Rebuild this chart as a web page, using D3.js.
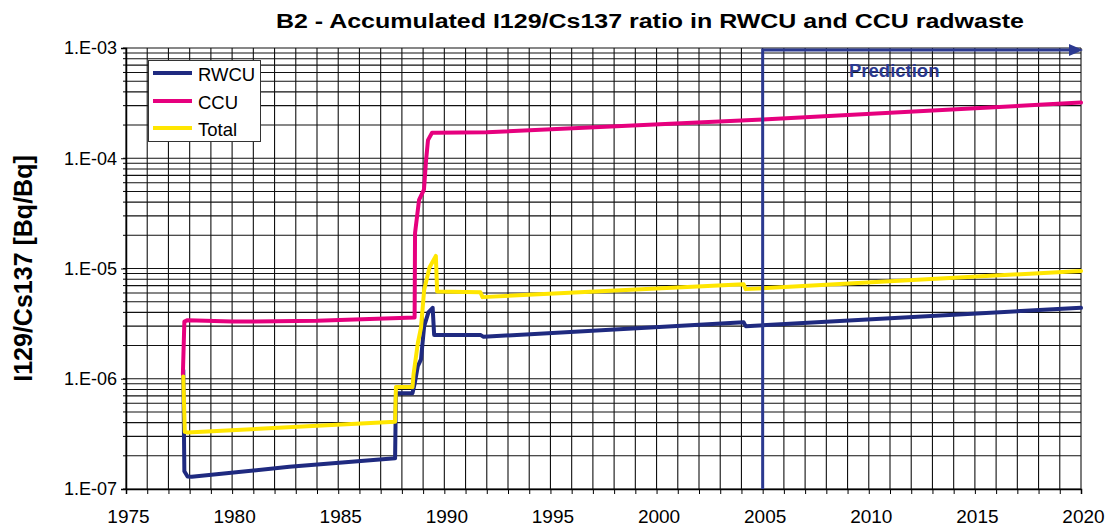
<!DOCTYPE html>
<html>
<head>
<meta charset="utf-8">
<script src="https://cdn.jsdelivr.net/npm/d3@7"></script>
<style>
  html, body { margin: 0; padding: 0; background: #fff; }
  svg { display: block; font-family: "Liberation Sans", Arial, sans-serif; }
</style>
</head>
<body>
<svg id="chart" width="1106" height="526"></svg>
<script>
// ---------- DATA ----------
const titleText = "B2 - Accumulated I129/Cs137 ratio in RWCU and CCU radwaste";
const yAxisLabel = "I129/Cs137 [Bq/Bq]";
const seriesNames = ["RWCU", "CCU", "Total"];
const seriesColors = ["#1F2A80", "#E6007E", "#FFE600"];

const rwcuYears  = [1977.7, 1977.75, 1977.9, 1978.1, 1982.7, 1987.68, 1987.72, 1988.5, 1988.6, 1988.75, 1988.9, 1989.05, 1989.25, 1989.45, 1989.52, 1991.7, 1991.85, 2004.1, 2004.2, 2020];
const rwcuValues = [1.2e-6, 1.45e-7, 1.3e-7, 1.29e-7, 1.59e-7, 1.9e-7, 7.4e-7, 7.4e-7, 9e-7, 1.3e-6, 1.5e-6, 3.0e-6, 4.0e-6, 4.4e-6, 2.5e-6, 2.5e-6, 2.4e-6, 3.25e-6, 3.0e-6, 4.4e-6];

const ccuYears  = [1977.68, 1977.75, 1977.9, 1980.0, 1984.0, 1988.6, 1988.62, 1988.81, 1989.04, 1989.14, 1989.23, 1989.42, 1989.6, 1992.0, 2005.0, 2020];
const ccuValues = [1.1e-6, 3.3e-6, 3.4e-6, 3.3e-6, 3.35e-6, 3.6e-6, 2.1e-5, 4.2e-5, 5.2e-5, 9.6e-5, 1.46e-4, 1.7e-4, 1.7e-4, 1.72e-4, 2.25e-4, 3.2e-4];

const totalYears  = [1977.7, 1977.77, 1977.9, 1987.68, 1987.72, 1988.5, 1988.55, 1988.75, 1988.9, 1989.05, 1989.3, 1989.6, 1989.66, 1991.7, 1991.8, 2004.1, 2004.2, 2020];
const totalValues = [1.05e-6, 3.3e-7, 3.25e-7, 4.07e-7, 8.4e-7, 8.4e-7, 1.1e-6, 2.1e-6, 2.9e-6, 6.4e-6, 1.02e-5, 1.3e-5, 6.2e-6, 6.1e-6, 5.5e-6, 7.2e-6, 6.5e-6, 9.5e-6];

const xTickValues = [1975, 1980, 1985, 1990, 1995, 2000, 2005, 2010, 2015, 2020];
const yTickValues = [1e-7, 1e-6, 1e-5, 1e-4, 1e-3];
const yTickLabels = ["1.E-07", "1.E-06", "1.E-05", "1.E-04", "1.E-03"];
const predictionStart = 2005;
const predictionLabel = "Prediction";

// ---------- LAYOUT ----------
const pL = 126, pR = 1081, pT = 48, pB = 489;
const svg = d3.select("#chart");

const x = d3.scaleLinear().domain([1975, 2020]).range([pL, pR]);
const y = d3.scaleLog().domain([1e-7, 1e-3]).range([pB, pT]);

// grid
const grid = svg.append("g");
const yearLines = d3.range(1975, 2021);
grid.selectAll("line.v").data(yearLines).enter().append("line")
  .attr("x1", d => x(d)).attr("x2", d => x(d))
  .attr("y1", pT).attr("y2", pB)
  .attr("stroke", "#111").attr("stroke-width", 1.1);
const minorVals = [];
for (let e = -7; e < -3; e++) for (let k = 1; k <= 9; k++) minorVals.push(k * Math.pow(10, e));
minorVals.push(1e-3);
grid.selectAll("line.h").data(minorVals).enter().append("line")
  .attr("x1", pL).attr("x2", pR)
  .attr("y1", d => y(d)).attr("y2", d => y(d))
  .attr("stroke", "#111").attr("stroke-width", 1.1);

// axes
const xAxis = d3.axisBottom(x).tickValues(yearLines).tickSize(5).tickFormat(d => xTickValues.includes(d) ? d : "");
const gx = svg.append("g").attr("transform", `translate(0,${pB})`).call(xAxis);
gx.select(".domain").attr("stroke", "#000").attr("stroke-width", 1.5);
gx.selectAll(".tick line").attr("stroke", "#000");
gx.selectAll(".tick text").attr("font-size", 19).attr("fill", "#000")
  .attr("y", 34).attr("dy", 0).attr("dx", 2)
  .attr("font-family", "Liberation Sans, Arial, sans-serif");

const yAxis = d3.axisLeft(y).tickValues(yTickValues).tickSize(5)
  .tickFormat((d, i) => yTickLabels[i]);
const gy = svg.append("g").attr("transform", `translate(${pL},0)`).call(yAxis);
gy.select(".domain").attr("stroke", "#000").attr("stroke-width", 1.5);
gy.selectAll(".tick line").attr("stroke", "#000");
gy.selectAll(".tick text").attr("font-size", 18).attr("fill", "#000")
  .attr("font-family", "Liberation Sans, Arial, sans-serif").attr("x", -9);
// minor y ticks
svg.append("g").selectAll("line").data(minorVals).enter().append("line")
  .attr("x1", pL - 3).attr("x2", pL)
  .attr("y1", d => y(d)).attr("y2", d => y(d))
  .attr("stroke", "#000");

// series
const line = d3.line().x(d => x(d[0])).y(d => y(d[1])).curve(d3.curveLinear);
const seriesData = [
  d3.zip(rwcuYears, rwcuValues),
  d3.zip(ccuYears, ccuValues),
  d3.zip(totalYears, totalValues)
];
svg.append("g").selectAll("path").data(seriesData).enter().append("path")
  .attr("d", line)
  .attr("fill", "none")
  .attr("stroke", (d, i) => seriesColors[i])
  .attr("stroke-width", 4)
  .attr("stroke-linejoin", "round")
  .attr("stroke-linecap", "round");

// prediction arrow
const predColor = "#2B3990";
const arrowY = y(1e-3) + 2;
svg.append("path")
  .attr("d", `M${x(predictionStart)},${pB} L${x(predictionStart)},${arrowY} L${x(2020) - 10},${arrowY}`)
  .attr("fill", "none").attr("stroke", predColor).attr("stroke-width", 3);
svg.append("path")
  .attr("d", `M${x(2020) + 2},${arrowY} L${x(2020) - 12},${arrowY - 6} L${x(2020) - 12},${arrowY + 6} Z`)
  .attr("fill", predColor);
svg.append("text")
  .attr("x", x(2011.2)).attr("y", 77)
  .attr("text-anchor", "middle")
  .attr("font-size", 18.5).attr("font-weight", "bold").attr("fill", predColor)
  .text(predictionLabel);

// legend
const lg = svg.append("g");
lg.append("rect").attr("x", 148.5).attr("y", 60.5).attr("width", 112).attr("height", 81)
  .attr("fill", "#fff").attr("stroke", "#333").attr("stroke-width", 1);
const legendRows = [73, 101, 128];
seriesNames.forEach((n, i) => {
  lg.append("line").attr("x1", 153).attr("x2", 192)
    .attr("y1", legendRows[i]).attr("y2", legendRows[i])
    .attr("stroke", seriesColors[i]).attr("stroke-width", 4);
  lg.append("text").attr("x", 198).attr("y", legendRows[i] + 8)
    .attr("font-size", 18.5).attr("fill", "#000").text(n);
});

// title
svg.append("text").attr("x", 650).attr("y", 28).attr("text-anchor", "middle")
  .attr("font-size", 20).attr("font-weight", "bold").attr("fill", "#000")
  .attr("textLength", 748).attr("lengthAdjust", "spacingAndGlyphs")
  .text(titleText);

// y axis label
svg.append("text")
  .attr("transform", `translate(32,${(pT + pB) / 2}) rotate(-90)`)
  .attr("text-anchor", "middle")
  .attr("font-size", 25).attr("font-weight", "bold").attr("fill", "#000")
  .text(yAxisLabel);
</script>
</body>
</html>
